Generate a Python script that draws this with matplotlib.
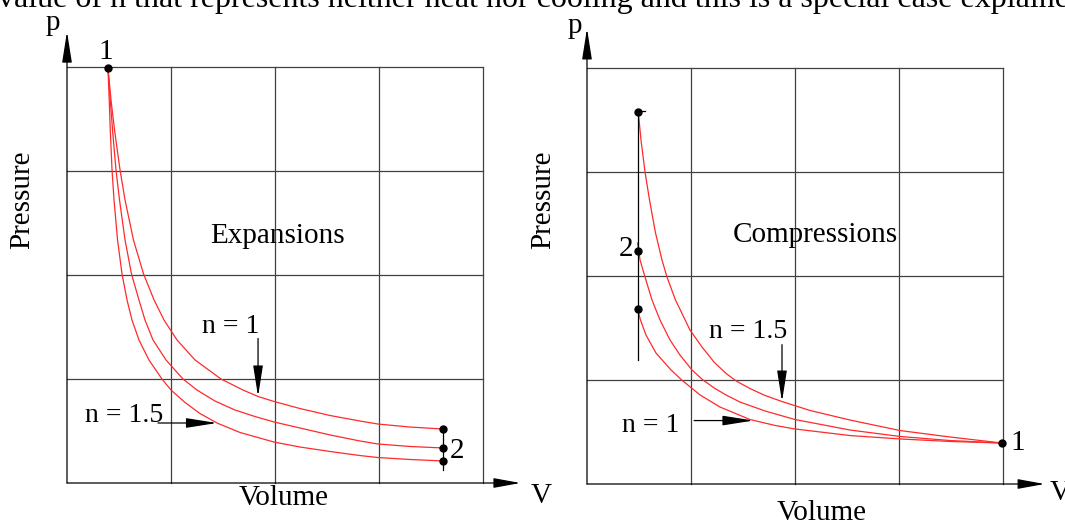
import matplotlib.pyplot as plt

plt.rcParams['font.family'] = ['Liberation Serif', 'DejaVu Serif']

# p-V diagrams, values in grid units (one grid cell = 1 unit)
# expansion from state 1
exp_v_n1 = [0.394, 0.423, 0.457, 0.510, 0.558, 0.639, 0.736, 0.837, 0.933, 1.058, 1.231,
            1.481, 1.692, 1.837, 1.990, 2.240, 2.529, 2.817, 2.990, 3.298, 3.615]
exp_p_n1 = [3.990, 3.683, 3.394, 3.010, 2.721, 2.337, 2.010, 1.760, 1.567, 1.375, 1.183,
            1.000, 0.894, 0.832, 0.784, 0.716, 0.649, 0.596, 0.567, 0.538, 0.519]
exp_v_mid = [0.394, 0.416, 0.438, 0.471, 0.505, 0.558, 0.620, 0.692, 0.750, 0.827, 0.952, 1.115,
             1.250, 1.423, 1.615, 1.808, 1.990, 2.240, 2.529, 2.817, 2.990, 3.298, 3.615]
exp_p_mid = [3.990, 3.683, 3.394, 3.010, 2.721, 2.337, 2.010, 1.760, 1.567, 1.375, 1.183, 1.000,
             0.894, 0.788, 0.702, 0.639, 0.587, 0.529, 0.462, 0.404, 0.375, 0.351, 0.337]
exp_v_n15 = [0.394, 0.406, 0.416, 0.433, 0.452, 0.486, 0.529, 0.577, 0.625, 0.692, 0.788, 0.913,
             1.000, 1.135, 1.279, 1.442, 1.663, 1.990, 2.240, 2.529, 2.817, 2.990, 3.298, 3.615]
exp_p_n15 = [3.990, 3.683, 3.394, 3.010, 2.721, 2.337, 2.010, 1.760, 1.567, 1.375, 1.183, 1.000,
             0.894, 0.774, 0.668, 0.577, 0.486, 0.394, 0.346, 0.303, 0.264, 0.245, 0.226, 0.212]
exp_state_v = [0.394, 3.615, 3.615, 3.615]
exp_state_p = [3.990, 0.519, 0.337, 0.212]

# compression from state 1
cmp_v_n15 = [0.493, 0.519, 0.558, 0.601, 0.659, 0.721, 0.769, 0.851, 0.990, 1.106, 1.221,
             1.337, 1.442, 1.567, 1.712, 1.875, 2.144, 2.529, 3.010, 3.490, 3.990]
cmp_p_n15 = [3.577, 3.308, 3.000, 2.731, 2.413, 2.154, 1.990, 1.769, 1.481, 1.317, 1.173,
             1.063, 0.986, 0.918, 0.851, 0.793, 0.707, 0.615, 0.514, 0.452, 0.394]
cmp_v_mid = [0.486, 0.510, 0.558, 0.625, 0.702, 0.798, 0.894, 1.010, 1.115,
             1.231, 1.346, 1.471, 1.712, 2.000, 2.529, 3.010, 3.490, 3.990]
cmp_p_mid = [2.317, 2.154, 1.990, 1.769, 1.577, 1.385, 1.240, 1.096, 1.000,
             0.918, 0.851, 0.788, 0.702, 0.620, 0.519, 0.457, 0.418, 0.394]
cmp_v_n1 = [0.486, 0.514, 0.567, 0.663, 0.808, 0.911, 1.087, 1.279,
            1.567, 1.808, 2.000, 2.529, 3.010, 3.490, 3.990]
cmp_p_n1 = [1.683, 1.577, 1.433, 1.260, 1.096, 1.000, 0.856, 0.740,
            0.620, 0.563, 0.529, 0.466, 0.433, 0.409, 0.394]
cmp_state_v = [0.493, 0.486, 0.486, 3.990]
cmp_state_p = [3.577, 2.240, 1.683, 0.394]

W, H = 1065, 520
fig = plt.figure(figsize=(W / 100, H / 100), dpi=100)

red = '#ff2a2a'
grid_col = '#404040'
fs = 21
fs_n = 20


def panel(x0, y0, scale=104):
    # transparent axes over the whole figure, origin of the diagram at pixel (x0, y0)
    ax = fig.add_axes([0, 0, 1, 1])
    ax.set_xlim(-x0 / scale, (W - x0) / scale)
    ax.set_ylim(-(H - y0) / scale, y0 / scale)
    ax.axis('off')
    ax.patch.set_visible(False)
    for k in range(1, 5):
        ax.plot([k, k], [0, 4], color=grid_col, lw=0.9)
        ax.plot([0, 4], [k, k], color=grid_col, lw=0.9)
    return ax


def arrow(ax, tail, tip, hl=1.9):
    ax.annotate('', xy=tip, xytext=tail,
                arrowprops=dict(arrowstyle='-|>,head_length=%g,head_width=0.3' % hl,
                                color='black', lw=0.9, shrinkA=0, shrinkB=0,
                                mutation_scale=10))


def axes_arrows(ax, ytop, xright):
    arrow(ax, (0, 0), (0, ytop))
    arrow(ax, (0, 0), (xright, 0), hl=1.65)


# top line of running text, cut by the image edge
fig.text(-2 / W, 1 - 7 / H,
         'value of n that represents neither heat nor cooling and this is a special case explained',
         fontsize=23, va='baseline', ha='left')

# ---- expansions ----
ax1 = panel(67, 483)
axes_arrows(ax1, 4.34, 4.36)
ax1.plot(exp_v_n1, exp_p_n1, color=red, lw=0.9)
ax1.plot(exp_v_mid, exp_p_mid, color=red, lw=0.9)
ax1.plot(exp_v_n15, exp_p_n15, color=red, lw=0.9)
ax1.plot([3.615, 3.615], [0.519, 0.125], color='black', lw=0.9)
ax1.plot(exp_state_v, exp_state_p, 'o', color='black', ms=5)
ax1.text(0.375, 4.08, '1', fontsize=fs, ha='center', va='baseline')
ax1.text(3.68, 0.24, '2', fontsize=fs, ha='left', va='baseline')
ax1.text(1.57, 1.44, 'n = 1', fontsize=fs_n, ha='center', va='baseline')
arrow(ax1, (1.837, 1.39), (1.837, 0.832))
ax1.text(0.55, 0.59, 'n = 1.5', fontsize=fs_n, ha='center', va='baseline')
arrow(ax1, (0.875, 0.577), (1.442, 0.577))
ax1.text(2.02, 2.31, 'Expansions', fontsize=fs, ha='center', va='baseline')
ax1.text(2.08, -0.21, 'Volume', fontsize=fs, ha='center', va='baseline')
ax1.text(-0.43, 2.72, 'Pressure', fontsize=fs, ha='center', va='center', rotation=90)
ax1.text(-0.14, 4.36, 'p', fontsize=fs, ha='center', va='baseline')
ax1.text(4.56, -0.19, 'V', fontsize=fs, ha='center', va='baseline')

# ---- compressions ----
ax2 = panel(587, 484)
axes_arrows(ax2, 4.38, 4.4)
ax2.plot(cmp_v_n15, cmp_p_n15, color=red, lw=0.9)
ax2.plot(cmp_v_mid, cmp_p_mid, color=red, lw=0.9)
ax2.plot(cmp_v_n1, cmp_p_n1, color=red, lw=0.9)
ax2.plot([0.49, 0.49], [3.59, 1.19], color='black', lw=0.9)
ax2.plot([0.49, 0.56], [3.59, 3.59], color='black', lw=0.9)
ax2.plot(cmp_state_v, cmp_state_p, 'o', color='black', ms=5)
ax2.text(0.44, 2.19, '2', fontsize=fs, ha='right', va='baseline')
ax2.text(4.07, 0.33, '1', fontsize=fs, ha='left', va='baseline')
ax2.text(1.55, 1.40, 'n = 1.5', fontsize=fs_n, ha='center', va='baseline')
arrow(ax2, (1.875, 1.34), (1.875, 0.793))
ax2.text(0.61, 0.50, 'n = 1', fontsize=fs_n, ha='center', va='baseline')
arrow(ax2, (1.03, 0.61), (1.60, 0.61))
ax2.text(2.20, 2.33, 'Compressions', fontsize=fs, ha='center', va='baseline')
ax2.text(2.26, -0.35, 'Volume', fontsize=fs, ha='center', va='baseline')
ax2.text(-0.42, 2.73, 'Pressure', fontsize=fs, ha='center', va='center', rotation=90)
ax2.text(-0.115, 4.34, 'p', fontsize=fs, ha='center', va='baseline')
ax2.text(4.45, -0.15, 'V', fontsize=fs, ha='left', va='baseline')

fig.savefig('out.png', dpi=100)
